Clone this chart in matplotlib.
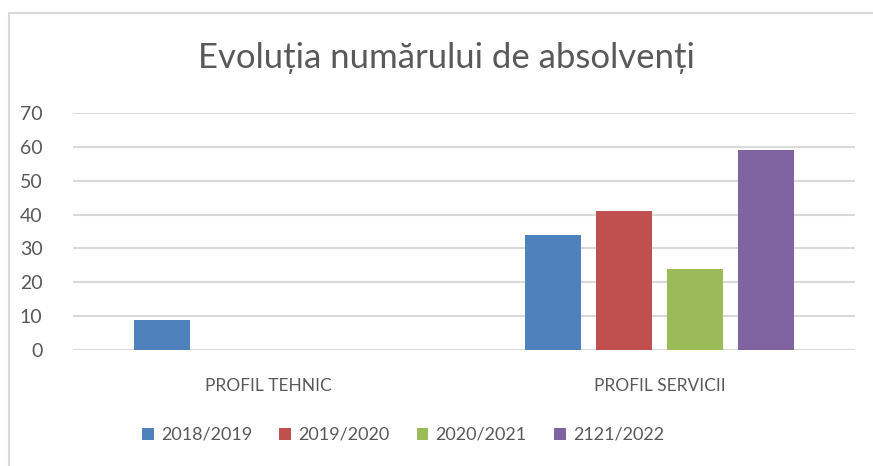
import numpy as np
import matplotlib
matplotlib.use("Agg")
import matplotlib.pyplot as plt
from matplotlib.patches import Rectangle

plt.rcParams['font.family'] = ['Lato', 'DejaVu Sans']

# date grafic
categorii = ['PROFIL TEHNIC', 'PROFIL SERVICII']
serii = ['2018/2019', '2019/2020', '2020/2021', '2121/2022']
val_2018 = [9, 34]
val_2019 = [0, 41]
val_2020 = [0, 24]
val_2121 = [0, 59]
valori = [val_2018, val_2019, val_2020, val_2121]
culori = ['#4F81BD', '#C0504D', '#9BBB59', '#8064A2']
yticks = [0, 10, 20, 30, 40, 50, 60, 70]

text_col = '#595959'
grid_col = '#D9D9D9'

fig = plt.figure(figsize=(8.73, 4.66), dpi=100)
# chenarul graficului (doar stanga si sus se vad)
fig.patches.append(Rectangle((9/873, -0.1), 1.2, 1 - 13/466 + 0.1,
                             transform=fig.transFigure, fill=False,
                             edgecolor=grid_col, linewidth=1.5))

ax = fig.add_axes([73/873, 1 - 350/466, (855 - 73)/873, (350 - 113)/466])

x = np.arange(len(categorii))
pas = 0.1816
latime = 0.143
for i, (s, v) in enumerate(zip(serii, valori)):
    ax.bar(x + (i - 1.5) * pas, v, width=latime, color=culori[i], label=s, zorder=3)

ax.set_xlim(-0.5, 1.5)
ax.set_ylim(0, 70)
ax.set_yticks(yticks)
ax.set_yticklabels([str(t) for t in yticks], fontsize=14, color=text_col)
ax.set_xticks(x)
ax.set_xticklabels(categorii, fontsize=12.5, color=text_col)
ax.tick_params(axis='both', length=0)
ax.tick_params(axis='y', pad=22)
ax.tick_params(axis='x', pad=20)
ax.grid(axis='y', color=grid_col, linewidth=1.5, zorder=0)
for sp in ax.spines.values():
    sp.set_visible(False)

fig.text(446/873, 1 - 58/466, 'Evoluția numărului de absolvenți',
         ha='center', va='center', fontsize=25, color=text_col)

fig.legend(loc='center', bbox_to_anchor=(403/873, 1 - 435/466), ncol=4,
           frameon=False, fontsize=13, labelcolor=text_col,
           handlelength=0.65, handleheight=0.65, handletextpad=0.4,
           columnspacing=1.5)

fig.savefig('out.png', dpi=100)
